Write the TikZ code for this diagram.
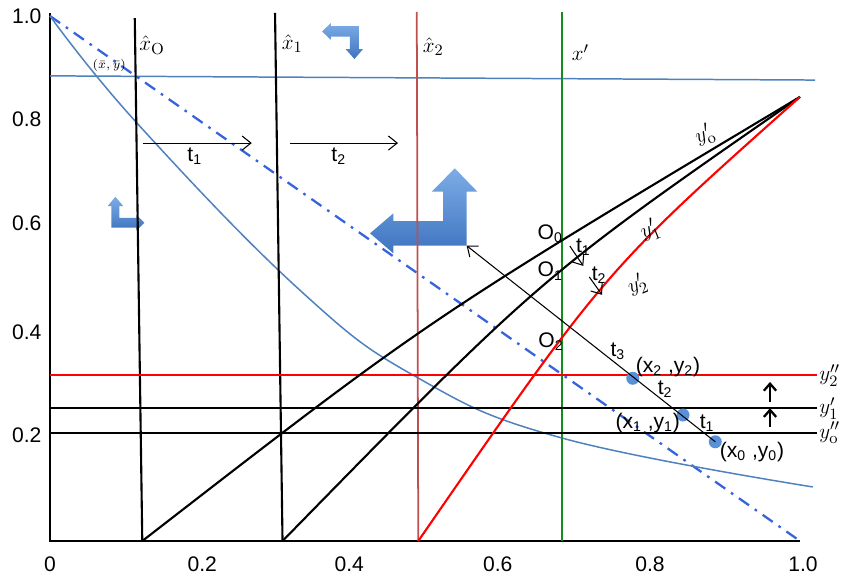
\documentclass[tikz,border=0pt]{standalone}
\usepackage{fontspec}
\newfontfamily\arialsf{Liberation Sans}
\usetikzlibrary{arrows.meta,positioning,calc}
\definecolor{lineblue}{RGB}{79,129,189}
\definecolor{dashblue}{RGB}{55,100,220}
\definecolor{xred}{RGB}{192,80,77}
\definecolor{xgreen}{RGB}{20,140,30}
\definecolor{iconhi}{RGB}{125,172,230}
\definecolor{iconlo}{RGB}{62,116,192}
\definecolor{dotblue}{RGB}{88,145,215}
\tikzset{wire/.style={line width=1.2pt},
 hl/.style={draw=lineblue,line width=.85pt},
 dd/.style={draw=dashblue,line width=1.3pt,dash pattern=on 7pt off 4pt on 1.5pt off 4pt},
 rl/.style={draw=red,line width=1.2pt},
 flow/.style={-{Straight Barb[length=5pt,width=8pt]},line width=.6pt},
 rise/.style={-{Straight Barb[length=4pt,width=7pt]},line width=1.3pt},
 icon/.style={top color=iconhi,bottom color=iconlo,draw=none},
 ball/.style={circle,fill=dotblue,inner sep=0pt,minimum size=2.6mm},
 txt/.style={font=\arialsf\fontsize{12}{14}\selectfont,inner sep=1pt},
 mth/.style={font=\fontsize{13}{15}\selectfont,inner sep=1pt},
 pics/leftup/.style={code={
  \path[icon](0,.235)--(.217,.47)--(.217,.38)--(.68,.38)--(.68,.725)--(.575,.725)--(.79,1)
   --(1,.725)--(.9,.725)--(.9,.09)--(.217,.09)--(.217,0)--cycle;
  \coordinate(-corner) at(.9,.09);}}}
\begin{document}
\begin{tikzpicture}[x=15cm,y=10.5cm]
\useasboundingbox(-0.0667,-0.0705) rectangle (1.0653,1.0305);
\coordinate(o) at(0,0); \coordinate(ytop) at(0,1.005); \coordinate(xend) at(1,0);
\coordinate(dtop) at(0,1); \coordinate(apex) at(1,0.846);
\coordinate(t0) at(0.113,0.996); \coordinate(b0) at(0.123,0);
\coordinate(t1) at(0.300,1.006); \coordinate(b1) at(0.310,0);
\coordinate(t2) at(0.489,1.008); \coordinate(b2) at(0.491,0);
\coordinate(gt) at(0.683,1.008); \coordinate(gb) at(0.683,0);
\coordinate(bl1) at(0,0.886); \coordinate(bl2) at(1.02,0.878);
\coordinate(ka) at(0.3627,0.9867); \coordinate(kb) at(0.1257,0.591); \coordinate(kc) at(0.4267,0.548);
\pic[x=0.82cm,y=-0.72cm](turna) at(ka){leftup};
\pic[x=-0.732cm,y=0.68cm](turnb) at(kb){leftup};
\pic[x=2.146cm,y=1.7cm](turnc) at(kc){leftup};
\draw[wire](ytop)--(o)--(xend);
\draw[hl](bl1)--(bl2);
\draw[dd](dtop)--(xend);
\draw[hl] plot[smooth,tension=.7] coordinates{(0,1) (0.116,0.796) (0.333,0.478)
 (0.489,0.312) (0.683,0.196) (1.017,0.103)};
\draw[wire](t0)--(b0); \draw[wire](t1)--(b1);
\draw[draw=xred,line width=1pt](t2)--(b2);
\draw[draw=xgreen,line width=1.3pt](gt)--(gb);
\foreach \k/\y/\s in {a/0.316/rl,b/0.253/wire,c/0.206/wire}{
 \coordinate(h\k) at(0,\y); \coordinate(e\k) at(1.023,\y);
 \draw[\s](h\k)--(e\k);}
\draw[wire](b0) .. controls (0.505,0.423) .. (apex);
\draw[wire](b1) .. controls (0.655,0.504) .. (apex);
\draw[rl](b2) .. controls (0.740,0.515) .. (apex);
\foreach \v/\y/\k in {1.0/1.0/a,0.8/0.804/b,0.6/0.606/c,0.4/0.398/d,0.2/0.202/e}
 \node[txt](ly\k) at(-0.031,\y){\v};
\foreach \v/\x/\k in {0/0/a,0.2/0.203/b,0.4/0.399/c,0.6/0.597/d,0.8/0.8/e,1.0/1.004/f}
 \node[txt](lx\k) at(\x,-0.044){\v};
\node[mth](xh0) at(0.136,0.945){$\hat{x}_{\mathrm{O}}$};
\node[mth](xh1) at(0.323,0.947){$\hat{x}_1$};
\node[mth](xh2) at(0.511,0.941){$\hat{x}_2$};
\node[mth](xp) at(0.707,0.93){$x'$};
\node[font=\fontsize{7}{8}\selectfont,inner sep=0pt](xbar) at(0.079,0.905){$(\bar{x},\bar{y})$};
\foreach \a/\b/\k in {0.124/0.269/1,0.320/0.464/2}{
 \coordinate(s\k) at(\a,0.758); \coordinate(f\k) at(\b,0.758);
 \draw[flow](s\k)--(f\k);}
\node[txt](ta) at(0.193,0.733){t\textsubscript{1}};
\node[txt](tb) at(0.385,0.733){t\textsubscript{2}};
\node[mth,rotate=22](yo) at(0.873,0.773){$y'_{\mathrm{o}}$};
\node[mth,rotate=22](yi) at(0.800,0.592){$y'_1$};
\node[mth,rotate=22](yii) at(0.783,0.488){$y'_2$};
\node[mth,anchor=west](ra) at(ea){$y''_2$};
\node[mth,anchor=west](rb) at(eb){$y'_1$};
\node[mth,anchor=west](rc) at(ec){$y''_{\mathrm{o}}$};
\node[txt](o0) at(0.667,0.585){O\textsubscript{0}};
\node[txt](o1) at(0.667,0.514){O\textsubscript{1}};
\node[txt](o2) at(0.668,0.379){O\textsubscript{2}};
\coordinate(m1) at(0.693,0.562); \coordinate(n1) at(0.711,0.524);
\coordinate(m2) at(0.719,0.503); \coordinate(n2) at(0.736,0.469);
\draw[flow](m1)--(n1); \draw[flow](m2)--(n2);
\node[txt](tc) at(0.711,0.560){t\textsubscript{1}};
\node[txt](td) at(0.732,0.507){t\textsubscript{2}};
\coordinate(u1) at(0.96,0.265); \coordinate(u2) at(0.96,0.303);
\coordinate(u3) at(0.96,0.217); \coordinate(u4) at(0.96,0.253);
\draw[rise](u1)--(u2); \draw[rise](u3)--(u4);
\node[ball](p0) at(0.887,0.189){};
\node[ball](p1) at(0.844,0.240){};
\node[ball](p2) at(0.777,0.310){};
\draw[flow](p0.center)--(turnc-corner);
\node[txt](q2) at(0.824,0.331){(x\textsubscript{2} ,y\textsubscript{2})};
\node[txt](q1) at(0.797,0.225){(x\textsubscript{1} ,y\textsubscript{1})};
\node[txt](q0) at(0.936,0.170){(x\textsubscript{0} ,y\textsubscript{0})};
\node[txt](te) at(0.757,0.362){t\textsubscript{3}};
\node[txt](tf) at(0.820,0.290){t\textsubscript{2}};
\node[txt](tg) at(0.876,0.225){t\textsubscript{1}};
\end{tikzpicture}
\end{document}
